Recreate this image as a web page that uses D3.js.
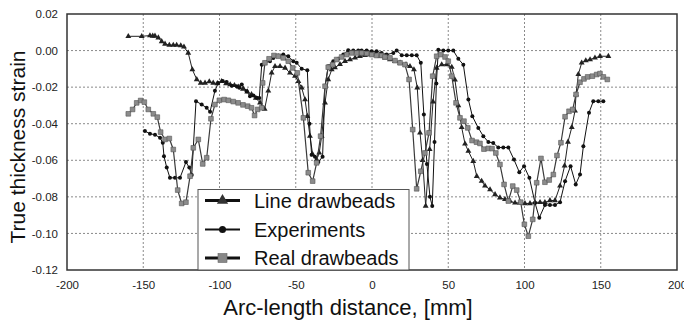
<!DOCTYPE html>
<html>
<head>
<meta charset="utf-8">
<script src="https://cdn.jsdelivr.net/npm/d3@7"></script>
<style>
  body { margin: 0; background: #fff; }
  svg { display: block; font-family: Arial, "Liberation Sans", sans-serif; }
</style>
</head>
<body>
<div id="chart"></div>
<script>
// x ticks, y ticks
const xTicks = [-200, -150, -100, -50, 0, 50, 100, 150, 200];
const yTicks = [0.02, 0, -0.02, -0.04, -0.06, -0.08, -0.10, -0.12];

const seriesNames = ["Line drawbeads", "Experiments", "Real drawbeads"];

// [arc-length mm, strain]
const lineDrawbeads = [
  [-159.8, 0.0078], [-151.0, 0.0078], [-145.6, 0.0082], [-143.8, 0.008], [-142.3, 0.008], [-140.1, 0.007],
  [-137.9, 0.005], [-135.7, 0.0036], [-132.9, 0.003], [-130.3, 0.003], [-128.1, 0.003], [-125.4, 0.0027],
  [-123.3, 0.002], [-120.5, -0.0013], [-117.8, -0.0104], [-114.9, -0.0158], [-112.3, -0.0177], [-109.5, -0.0177],
  [-106.7, -0.017], [-104.1, -0.0177], [-101.4, -0.018], [-98.6, -0.0168], [-95.7, -0.018], [-93.0, -0.0186],
  [-90.2, -0.019], [-87.4, -0.0198], [-84.6, -0.021], [-81.8, -0.0225], [-79.0, -0.024], [-76.2, -0.026],
  [-73.4, -0.0285], [-70.4, -0.032], [-68.0, -0.022], [-65.8, -0.0122], [-63.6, -0.0086], [-60.3, -0.0086],
  [-57.0, -0.0095], [-53.8, -0.0122], [-50.5, -0.014], [-48.3, -0.0168], [-46.1, -0.0204], [-43.9, -0.0268],
  [-42.4, -0.0359], [-40.7, -0.0468], [-38.9, -0.0568], [-36.3, -0.0596], [-34.6, -0.0559], [-33.0, -0.0468],
  [-30.8, -0.0286], [-28.7, -0.0158], [-26.4, -0.0104], [-24.3, -0.0093], [-21.0, -0.0075], [-17.7, -0.0058],
  [-14.4, -0.0049], [-11.1, -0.004], [-7.9, -0.0031], [-4.6, -0.0026], [-1.3, -0.0022], [2.0, -0.0022],
  [5.2, -0.0031], [8.5, -0.004], [11.8, -0.0049], [15.1, -0.0058], [18.4, -0.0067], [22.3, -0.0077],
  [24.9, -0.0086], [27.5, -0.0104], [29.7, -0.0204], [31.5, -0.045], [33.2, -0.06], [35.2, -0.085],
  [37.8, -0.054], [40.0, -0.028], [42.4, -0.0095], [45.7, -0.0077], [49.0, -0.0077], [52.3, -0.009],
  [54.4, -0.016], [56.6, -0.030], [58.8, -0.042], [61.0, -0.051], [63.2, -0.055], [66.4, -0.0605],
  [68.7, -0.0687], [71.9, -0.0714], [74.1, -0.074], [77.4, -0.076], [80.7, -0.0787], [83.9, -0.0805],
  [87.2, -0.0814], [90.5, -0.0823], [93.8, -0.0833], [97.0, -0.0833], [100.3, -0.0836], [103.6, -0.0836],
  [106.9, -0.083], [110.2, -0.083], [113.4, -0.083], [116.7, -0.082], [120.0, -0.082], [123.3, -0.074],
  [126.3, -0.063], [128.5, -0.05], [131.0, -0.042], [133.1, -0.033], [133.8, -0.024], [135.3, -0.013],
  [137.5, -0.0067], [140.2, -0.0055], [143.0, -0.0049], [146.2, -0.004], [149.5, -0.0031], [155.0, -0.0031]
];

const experiments = [
  [-148.9, -0.044], [-145.6, -0.0455], [-142.3, -0.046], [-139.0, -0.0477], [-137.2, -0.0504], [-136.4, -0.0578],
  [-134.6, -0.064], [-132.5, -0.0696], [-129.2, -0.0696], [-125.9, -0.0696], [-122.0, -0.061], [-119.8, -0.064],
  [-118.2, -0.068], [-115.4, -0.0277], [-111.7, -0.0295], [-108.4, -0.0313], [-106.2, -0.0335], [-103.0, -0.022],
  [-100.8, -0.0177], [-97.9, -0.0166], [-95.3, -0.0172], [-92.0, -0.0192], [-88.7, -0.0195], [-87.0, -0.0204],
  [-85.4, -0.0186], [-82.2, -0.0222], [-80.0, -0.025], [-77.8, -0.0246], [-75.6, -0.0258], [-73.9, -0.026],
  [-72.3, -0.0077], [-70.2, -0.0067], [-66.9, -0.0058], [-64.7, -0.004], [-61.4, -0.0027], [-58.2, -0.0022],
  [-54.9, -0.0031], [-51.6, -0.0058], [-49.4, -0.0067], [-46.1, -0.01], [-42.4, -0.0108], [-41.0, -0.040],
  [-39.6, -0.057], [-37.4, -0.058], [-35.2, -0.061], [-32.4, -0.058], [-30.8, -0.0195], [-28.7, -0.0086],
  [-25.4, -0.0058], [-22.1, -0.0045], [-18.8, -0.0022], [-15.6, 0.0002], [-12.3, 0.0], [-9.0, 0.0],
  [-6.8, 0.0], [-3.5, 0.0], [-0.2, -0.0004], [3.0, -0.0004], [6.3, -0.0013], [9.6, -0.0022],
  [14.0, -0.0013], [16.2, 0.0], [19.5, -0.0026], [22.8, -0.0026], [26.1, -0.0026], [29.3, -0.0026],
  [32.0, -0.0067], [34.0, -0.035], [36.0, -0.062], [38.0, -0.080], [39.5, -0.085], [41.0, -0.050],
  [42.2, -0.018], [43.5, 0.0005], [46.8, 0.0], [50.0, 0.0], [53.3, 0.0], [56.6, -0.0045],
  [59.9, -0.0077], [63.2, -0.0268], [65.8, -0.0359], [69.7, -0.0423], [73.0, -0.0468], [76.3, -0.050],
  [79.5, -0.0505], [82.8, -0.053], [86.1, -0.053], [89.4, -0.053], [93.1, -0.0596], [96.6, -0.0665],
  [99.7, -0.0632], [103.2, -0.0696], [106.9, -0.0833], [109.7, -0.0914], [113.4, -0.0845], [116.7, -0.0845],
  [120.0, -0.0845], [123.3, -0.0829], [126.6, -0.0714], [130.2, -0.0632], [133.6, -0.0732], [136.4, -0.0678],
  [138.6, -0.0523], [142.3, -0.034], [145.1, -0.0277], [148.4, -0.0277], [151.7, -0.0277]
];

const realDrawbeads = [
  [-159.8, -0.0346], [-157.0, -0.0322], [-154.3, -0.0286], [-151.7, -0.0273], [-149.3, -0.0282], [-146.7, -0.0322],
  [-143.4, -0.0346], [-140.8, -0.0364], [-138.6, -0.0446], [-135.7, -0.0486], [-132.9, -0.0481], [-130.3, -0.0541],
  [-127.4, -0.0763], [-124.8, -0.0836], [-122.0, -0.0829], [-119.3, -0.0687], [-117.2, -0.0532], [-113.9, -0.0486],
  [-111.0, -0.062], [-108.4, -0.0586], [-105.6, -0.0373], [-103.0, -0.0295], [-100.1, -0.0272], [-97.0, -0.0268],
  [-94.2, -0.0272], [-91.0, -0.0279], [-87.8, -0.0286], [-84.6, -0.0297], [-81.5, -0.0304], [-79.0, -0.0313],
  [-77.0, -0.0355], [-75.0, -0.0322], [-72.3, -0.0313], [-71.7, -0.0177], [-70.2, -0.0067], [-67.5, -0.0045],
  [-64.3, -0.0027], [-61.4, -0.0031], [-58.2, -0.004], [-54.9, -0.0058], [-52.0, -0.0095], [-49.0, -0.0122],
  [-45.0, -0.0368], [-41.8, -0.0668], [-38.9, -0.0714], [-36.3, -0.0614], [-33.7, -0.0468], [-30.8, -0.0195],
  [-28.7, -0.0091], [-25.8, -0.0077], [-23.2, -0.0049], [-19.9, -0.0035], [-16.6, -0.0022], [-13.3, -0.0013],
  [-10.0, -0.0013], [-6.8, -0.0013], [-3.5, -0.0016], [-0.2, -0.0022], [3.0, -0.0027], [6.3, -0.0027],
  [8.5, -0.0035], [11.8, -0.004], [15.1, -0.0055], [18.4, -0.0067], [21.6, -0.0077], [24.3, -0.0158],
  [26.7, -0.0432], [29.3, -0.0756], [32.0, -0.066], [34.7, -0.056], [37.4, -0.045], [39.8, -0.014],
  [42.4, -0.0031], [45.2, -0.0022], [47.9, -0.0035], [50.0, -0.0058], [52.3, -0.014], [55.1, -0.0286],
  [57.7, -0.0368], [60.3, -0.0386], [62.8, -0.0423], [65.6, -0.0492], [68.5, -0.0501], [70.8, -0.0508],
  [73.4, -0.0539], [76.3, -0.0535], [78.7, -0.0536], [81.2, -0.056], [83.9, -0.0623], [86.6, -0.0732],
  [89.4, -0.0823], [92.3, -0.0741], [94.9, -0.0763], [97.5, -0.0829], [99.9, -0.095], [102.5, -0.1015],
  [105.4, -0.0923], [108.0, -0.0723], [110.8, -0.059], [113.4, -0.072], [116.2, -0.0708], [118.9, -0.0678],
  [121.3, -0.0574], [123.9, -0.0504], [126.6, -0.0362], [129.2, -0.0332], [131.6, -0.0322], [133.8, -0.024],
  [136.4, -0.0173], [139.0, -0.0155], [141.4, -0.0144], [144.5, -0.014], [147.3, -0.0131], [149.5, -0.0126],
  [151.7, -0.0144], [154.3, -0.0158]
];

let W = 684, H = 320
let plotLeft = 67, plotRight = 677, plotTop = 14, plotBottom = 270

let x = d3.scaleLinear().domain([-200, 200]).range([plotLeft, plotRight])
let y = d3.scaleLinear().domain([-0.12, 0.02]).range([plotBottom, plotTop])

let svg = d3.select("#chart").append("svg")
  .attr("width", W)
  .attr("height", H)

// grid
svg.append("g").selectAll("line")
  .data(xTicks.slice(1, -1))
  .enter().append("line")
    .attr("x1", d => x(d)).attr("x2", d => x(d))
    .attr("y1", plotTop).attr("y2", plotBottom)
    .attr("stroke", "#8a8a8a").attr("stroke-width", 1).attr("stroke-dasharray", "2,2")

svg.append("g").selectAll("line")
  .data(yTicks.slice(1, -1))
  .enter().append("line")
    .attr("x1", plotLeft).attr("x2", plotRight)
    .attr("y1", d => y(d)).attr("y2", d => y(d))
    .attr("stroke", "#8a8a8a").attr("stroke-width", 1).attr("stroke-dasharray", "2,2")

// frame
svg.append("rect")
  .attr("x", plotLeft).attr("y", plotTop)
  .attr("width", plotRight - plotLeft).attr("height", plotBottom - plotTop)
  .attr("fill", "none").attr("stroke", "#333").attr("stroke-width", 1.5)

// axes (labels only)
let xAxis = d3.axisBottom(x).tickValues(xTicks).tickSize(0).tickPadding(11)
let yAxis = d3.axisLeft(y).tickValues(yTicks).tickSize(0).tickPadding(9).tickFormat(d => d3.format(".2f")(d).replace("−", "-"))

let gx = svg.append("g").attr("transform", `translate(0, ${plotBottom})`).call(xAxis)
let gy = svg.append("g").attr("transform", `translate(${plotLeft}, 0)`).call(yAxis)
gx.select(".domain").remove()
gy.select(".domain").remove()
svg.selectAll(".tick text")
  .attr("font-size", "11.5px")
  .attr("fill", "#222")
  .attr("font-family", "Arial, 'Liberation Sans', sans-serif")
gx.selectAll(".tick text").text(d => String(d))

// axis titles
svg.append("text")
  .attr("x", 348).attr("y", 315)
  .attr("text-anchor", "middle")
  .attr("font-size", "22px")
  .attr("fill", "#111")
  .text("Arc-length distance, [mm]")

svg.append("text")
  .attr("transform", `translate(25, 147) rotate(-90)`)
  .attr("text-anchor", "middle")
  .attr("font-size", "21px")
  .attr("fill", "#111")
  .text("True thickness strain")

let line = d3.line().x(d => x(d[0])).y(d => y(d[1]))

let triangle = d3.symbol().type(d3.symbolTriangle).size(15)
let square = d3.symbol().type(d3.symbolSquare).size(22)

// Line drawbeads
svg.append("path").datum(lineDrawbeads)
  .attr("d", line).attr("fill", "none").attr("stroke", "#222").attr("stroke-width", 1)
svg.append("g").selectAll("path")
  .data(lineDrawbeads)
  .enter().append("path")
    .attr("d", triangle)
    .attr("transform", d => `translate(${x(d[0])}, ${y(d[1])})`)
    .attr("fill", "#222")

// Experiments
svg.append("path").datum(experiments)
  .attr("d", line).attr("fill", "none").attr("stroke", "#111").attr("stroke-width", 1)
svg.append("g").selectAll("circle")
  .data(experiments)
  .enter().append("circle")
    .attr("cx", d => x(d[0])).attr("cy", d => y(d[1]))
    .attr("r", 2)
    .attr("fill", "#111")

// Real drawbeads
svg.append("path").datum(realDrawbeads)
  .attr("d", line).attr("fill", "none").attr("stroke", "#3a3a3a").attr("stroke-width", 1.2)
svg.append("g").selectAll("path")
  .data(realDrawbeads)
  .enter().append("path")
    .attr("d", square)
    .attr("transform", d => `translate(${x(d[0])}, ${y(d[1])})`)
    .attr("fill", "#8c8c8c")
    .attr("stroke", "#555").attr("stroke-width", 0.6)

// legend
let lg = svg.append("g")
lg.append("rect")
  .attr("x", 198).attr("y", 189.5)
  .attr("width", 211).attr("height", plotBottom - 189.5)
  .attr("fill", "#fff").attr("stroke", "#555").attr("stroke-width", 1)

let legendRows = [200.5, 229.5, 258]
seriesNames.forEach(function(name, i){
  let ly = legendRows[i]
  lg.append("line")
    .attr("x1", 205).attr("x2", 240)
    .attr("y1", ly).attr("y2", ly)
    .attr("stroke", "#111")
    .attr("stroke-width", i == 1 ? 2 : 3)
  if (i == 0) {
    lg.append("path")
      .attr("d", d3.symbol().type(d3.symbolTriangle).size(55))
      .attr("transform", `translate(222.5, ${ly})`)
      .attr("fill", "#333")
  } else if (i == 1) {
    lg.append("circle").attr("cx", 222.5).attr("cy", ly).attr("r", 3.5).attr("fill", "#111")
  } else {
    lg.append("rect")
      .attr("x", 218).attr("y", ly - 4.5).attr("width", 9).attr("height", 9)
      .attr("fill", "#888").attr("stroke", "#666").attr("stroke-width", 0.6)
  }
  lg.append("text")
    .attr("x", 254).attr("y", ly + 7)
    .attr("font-size", "20px")
    .attr("fill", "#111")
    .text(name)
})
</script>
</body>
</html>
